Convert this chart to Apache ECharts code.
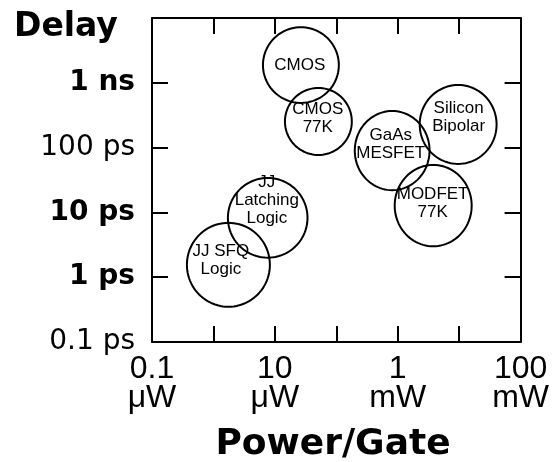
<!DOCTYPE html>
<html>
<head>
<meta charset="utf-8">
<script src="https://cdn.jsdelivr.net/npm/echarts@6/dist/echarts.min.js"></script>
<style>
html,body{margin:0;padding:0;background:#fff;}
#chart{width:552px;height:462px;}
</style>
</head>
<body>
<div id="chart"></div>
<script>
// ---- Data ----
// Technologies (power in µW, delay in ps)
var techNames = ['CMOS', 'CMOS\n77K', 'GaAs\nMESFET', 'Silicon\nBipolar', 'MODFET\n77K', 'JJ\nLatching\nLogic', 'JJ SFQ\nLogic'];
var powerMin  = [6.4,   14.6,  200,   2280,   893,    1.72,  0.37];
var powerMax  = [110,   179,   3300,  40700,  16000,  34,    8.3];
var delayMin  = [490,   77,    22,    56,     3.0,    2.0,   0.35];
var delayMax  = [7200,  832,   367,   925,    54,     34,    6.9];
// label anchor points (data units)
var labelPower = [25.5, 50,   770,  9800, 3700, 7.4,  1.32];
var labelDelay = [1880, 286,  114,  296,  14,   15.5, 1.84];

// Axis tick labels (by decade exponent)
var xTickLabels = {'-1': '0.1\nμW', '1': '10\nμW', '3': '1\nmW', '5': '100\nmW'};
var yTickLabels = {'-1': '{n|0.1 ps}', '0': '{b|1 ps}', '1': '{b|10 ps}', '2': '{n|100 ps}', '3': '{b|1 ns}'};

var seriesData = techNames.map(function (n, i) {
  return [powerMin[i], powerMax[i], delayMin[i], delayMax[i], labelPower[i], labelDelay[i], n];
});

var chart = echarts.init(document.getElementById('chart'), null, {renderer: 'canvas'});

function expOf(v) { return String(Math.round(Math.log10(v))); }

var axisCommonLine = {show: true, lineStyle: {color: '#000', width: 2}};
var tickInside = {show: true, inside: true, length: 16, lineStyle: {color: '#000', width: 2}};

var option = {
  backgroundColor: '#fff',
  animation: false,
  grid: {left: 152, right: 31, top: 18, bottom: 120, containLabel: false},
  xAxis: [{
    type: 'log', logBase: 10, min: 0.1, max: 100000, interval: 1,
    position: 'bottom',
    axisLine: axisCommonLine, axisTick: tickInside, splitLine: {show: false},
    axisLabel: {
      show: true, margin: 13, showMinLabel: true, showMaxLabel: true,
      fontFamily: "'Liberation Sans', Arial, sans-serif",
      fontSize: 32, lineHeight: 29, color: '#000',
      formatter: function (v) { return xTickLabels[expOf(v)] || ''; }
    }
  }, {
    type: 'log', logBase: 10, min: 0.1, max: 100000, interval: 1,
    position: 'top',
    axisLine: axisCommonLine, axisTick: tickInside, splitLine: {show: false},
    axisLabel: {show: false}
  }],
  yAxis: [{
    type: 'log', logBase: 10, min: 0.1, max: 10000, interval: 1,
    position: 'left',
    axisLine: axisCommonLine, axisTick: tickInside, splitLine: {show: false},
    axisLabel: {
      show: true, margin: 17, showMinLabel: true, showMaxLabel: true, color: '#000',
      formatter: function (v) { return yTickLabels[expOf(v)] || ''; },
      rich: {
        b: {fontFamily: "'DejaVu Sans', sans-serif", fontWeight: 'bold', fontSize: 28, color: '#000'},
        n: {fontFamily: "'DejaVu Sans', sans-serif", fontWeight: 'normal', fontSize: 28, color: '#000'}
      }
    }
  }, {
    type: 'log', logBase: 10, min: 0.1, max: 10000, interval: 1,
    position: 'right',
    axisLine: axisCommonLine, axisTick: tickInside, splitLine: {show: false},
    axisLabel: {show: false}
  }],
  graphic: [
    {type: 'text', x: 14, y: 27, style: {text: 'Delay', fill: '#000', fontFamily: "'DejaVu Sans', sans-serif", fontWeight: 'bold', fontSize: 33, textAlign: 'left', textVerticalAlign: 'middle'}},
    {type: 'text', x: 333, y: 445, style: {text: 'Power/Gate', fill: '#000', fontFamily: "'DejaVu Sans', sans-serif", fontWeight: 'bold', fontSize: 36, textAlign: 'center', textVerticalAlign: 'middle'}}
  ],
  series: [{
    type: 'custom',
    coordinateSystem: 'cartesian2d',
    xAxisIndex: 0, yAxisIndex: 0,
    clip: false,
    encode: {x: [0, 1, 4], y: [2, 3, 5]},
    data: seriesData,
    renderItem: function (params, api) {
      var p1 = api.coord([api.value(0), api.value(3)]);
      var p2 = api.coord([api.value(1), api.value(2)]);
      var cx = (p1[0] + p2[0]) / 2, cy = (p1[1] + p2[1]) / 2;
      var rx = Math.abs(p2[0] - p1[0]) / 2, ry = Math.abs(p2[1] - p1[1]) / 2;
      var pts = [];
      for (var k = 0; k < 96; k++) {
        var a = k / 96 * Math.PI * 2;
        pts.push([cx + rx * Math.cos(a), cy + ry * Math.sin(a)]);
      }
      var lp = api.coord([api.value(4), api.value(5)]);
      var name = seriesData[params.dataIndex][6];
      return {
        type: 'group',
        children: [{
          type: 'polygon',
          shape: {points: pts},
          style: {fill: 'none', stroke: '#000', lineWidth: 2}
        }, {
          type: 'text',
          x: lp[0], y: lp[1],
          style: {
            text: name, fill: '#000',
            fontFamily: "'Liberation Sans', Arial, sans-serif", fontSize: 17, lineHeight: 18,
            textAlign: 'center', textVerticalAlign: 'middle'
          }
        }]
      };
    }
  }]
};
chart.setOption(option);
</script>
</body>
</html>
